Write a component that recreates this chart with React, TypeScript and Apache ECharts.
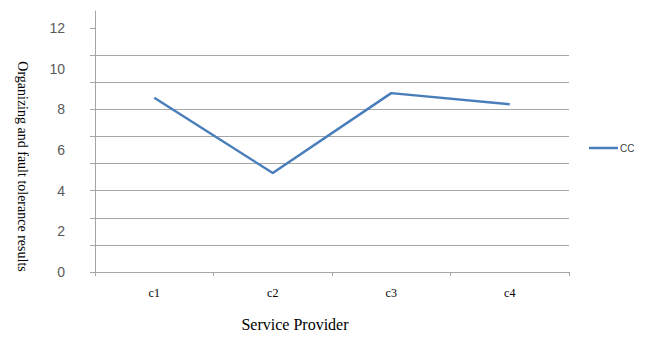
import React, { useEffect, useRef } from "react";
import * as echarts from "echarts";

const categories = ["c1", "c2", "c3", "c4"];
const ccValues = [8.57, 4.87, 8.8, 8.25];
const yLabelValues = [0, 2, 4, 6, 8, 10, 12];
const yGridStep = 12 / 9;
const seriesName = "CC";

export default function App() {
  const ref = useRef<HTMLDivElement>(null);
  useEffect(() => {
    if (!ref.current) return;
    const chart = echarts.init(ref.current, null, { renderer: "svg" });
    const gray = "#a6a6a6";
    const gridValues: number[] = [];
    for (let i = 0; i <= 9; i++) gridValues.push(i * yGridStep);
    chart.setOption({
      animation: false,
      backgroundColor: "#ffffff",
      grid: { left: 95, right: 80, top: 11, bottom: 66 },
      legend: {
        left: 589,
        top: 143,
        padding: 0,
        orient: "vertical",
        itemWidth: 29,
        itemHeight: 2.5,
        itemGap: 4,
        icon: "rect",
        textStyle: { fontSize: 10, color: "#404040", fontFamily: "Liberation Sans", padding: [0, 0, 0, -3] },
        data: [seriesName],
      },
      xAxis: {
        type: "category",
        data: categories,
        boundaryGap: true,
        axisLine: { lineStyle: { color: gray, width: 1 } },
        axisTick: { show: true, length: 4, lineStyle: { color: gray } },
        axisLabel: { margin: 15, fontSize: 12, color: "#000", fontFamily: "Liberation Serif" },
        splitLine: { show: false },
        name: "Service Provider",
        nameLocation: "middle",
        nameGap: 44,
        nameTextStyle: { fontSize: 16, color: "#000", fontFamily: "Liberation Serif", padding: [0, 74, 0, 0] },
      },
      yAxis: {
        type: "value",
        min: 0,
        max: 12.84,
        interval: yGridStep,
        axisLine: { show: true, lineStyle: { color: gray, width: 1 } },
        axisTick: { show: true, length: 5, customValues: gridValues, lineStyle: { color: gray } },
        axisLabel: {
          customValues: yLabelValues,
          margin: 30,
          fontSize: 14,
          color: "#595959",
          fontFamily: "Liberation Sans",
        },
        splitLine: { show: true, showMaxLine: false, lineStyle: { color: gray, width: 1 } },
        name: "Organizing and fault tolerance results",
        nameLocation: "middle",
        nameRotate: -90,
        nameGap: 66,
        nameTextStyle: { fontSize: 14, color: "#000", fontFamily: "Liberation Serif", padding: [0, 0, 0, 50] },
      },
      series: [
        {
          name: seriesName,
          type: "line",
          data: ccValues,
          symbol: "none",
          lineStyle: { color: "#4a7ebb", width: 2.5 },
          itemStyle: { color: "#4a7ebb" },
        },
      ],
    });
    return () => chart.dispose();
  }, []);
  return <div ref={ref} style={{ position: "fixed", left: 0, top: 0, width: 649, height: 338 }} />;
}
